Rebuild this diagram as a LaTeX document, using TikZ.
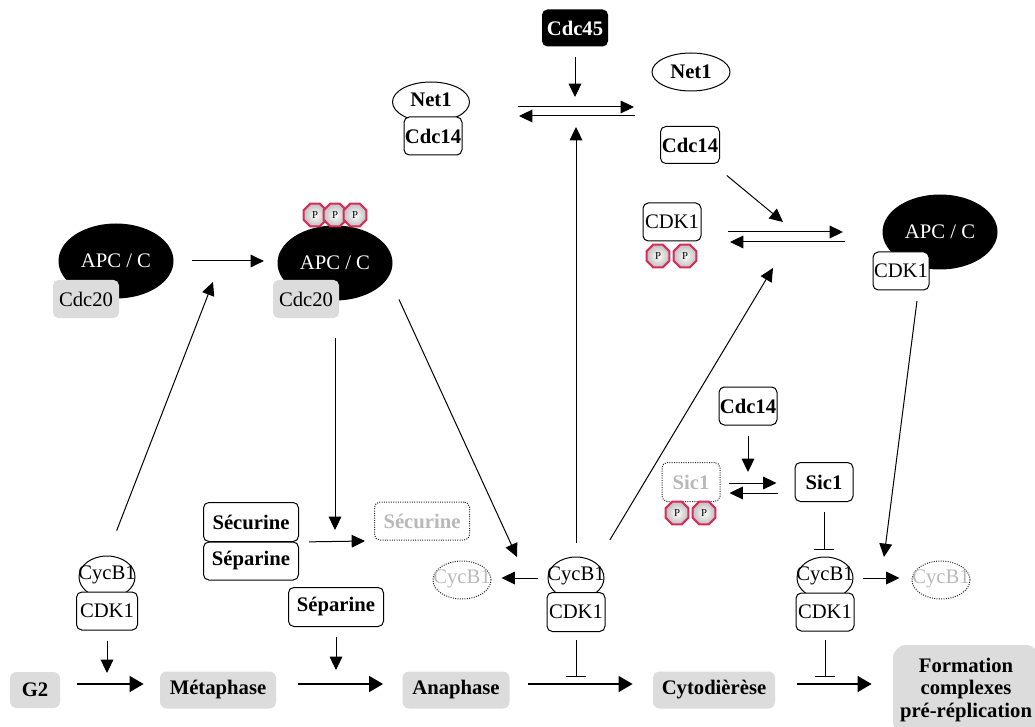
\documentclass[tikz,border=0pt]{standalone}
\usepackage{fontspec}
\setmainfont{Liberation Serif}
\usetikzlibrary{shapes.geometric,arrows.meta}
\definecolor{phg}{RGB}{220,220,220}
\definecolor{ltx}{RGB}{185,185,185}
\definecolor{pcr}{RGB}{215,45,90}
\newcommand{\fs}{\fontsize{15.5}{17}\selectfont}
\begin{document}
\begin{tikzpicture}[x=0.75pt,y=-0.75pt,
  every node/.style={font=\fs, inner sep=0pt},
  bx/.style={draw, rounded corners=4pt, fill=white, line width=0.75pt, minimum width=43.5pt, minimum height=28.5pt},
  bbx/.style={bx, font=\fs\bfseries},
  gbx/.style={draw=black!85, densely dotted, rounded corners=4pt, line width=0.75pt, minimum width=43.5pt, minimum height=28.5pt, text=ltx, font=\fs\bfseries},
  phase/.style={fill=phg, rounded corners=5pt, minimum height=27.75pt, font=\fs\bfseries},
  apc/.style={ellipse, fill=black, text=white, minimum width=86.25pt, minimum height=56.25pt},
  cdcg/.style={fill=phg, rounded corners=4pt, minimum width=49.5pt, minimum height=28.5pt},
  ell/.style={ellipse, draw, fill=white, line width=0.75pt, minimum width=42pt, minimum height=31.5pt},
  gell/.style={ellipse, draw=black!85, densely dotted, line width=0.75pt, minimum width=43.5pt, minimum height=28.5pt},
  lbl/.style={},
  glbl/.style={text=ltx},
  pp/.style={regular polygon, regular polygon sides=8, minimum size=18.5pt, draw=pcr, line width=1.5pt, inner color=white, outer color=gray!50, font=\fontsize{8}{9}\selectfont},
  arr/.style={line width=0.75pt, -{Triangle[length=10pt,width=9.5pt]}},
  inh/.style={line width=0.75pt, -{Bar[width=15pt,line width=0.75pt]}},
  big/.style={line width=2.2pt, -{Triangle[length=10.5pt,width=11.5pt]}},
]
\fill[white] (0,0) rectangle (1035,727);
\useasboundingbox (0,0) rectangle (1035,727);

% ---- top ----
\node[fill=black, text=white, rounded corners=4pt, minimum width=49.5pt, minimum height=27.75pt, font=\fs\bfseries] (cdc45) at (575,28) {Cdc45};
\node[ell, minimum width=57.75pt, minimum height=30pt] (net1L) at (431,102) {};
\node[lbl, font=\fs\bfseries] (net1Lt) at (431,100) {Net1};
\node[bbx] (cdc14L) at (433,136) {Cdc14};
\node[ell, minimum width=58.5pt, minimum height=28.5pt, font=\fs\bfseries] (net1R) at (691,72) {Net1};
\node[bbx, minimum width=44.25pt, minimum height=27.75pt] (cdc14R) at (690,145) {Cdc14};

\coordinate (e1) at (575,97);
\draw[arr, shorten <=8pt] (cdc45) -- (e1);
\coordinate (q1a) at (518,107); \coordinate (q1b) at (634,107);
\coordinate (q1c) at (635,116); \coordinate (q1d) at (519,116);
\draw[arr] (q1a) -- (q1b);
\draw[arr] (q1c) -- (q1d);

% ---- APC/C left and middle ----
\node[apc] (apcL) at (116,261) {APC / C};
\node[cdcg] (cdc20L) at (86,299) {Cdc20};
\node[apc] (apcM) at (335,263) {APC / C};
\node[cdcg] (cdc20M) at (306,299) {Cdc20};
\node[pp] (pM1) at (315,215) {P};
\node[pp] (pM2) at (335,215) {P};
\node[pp] (pM3) at (355,215) {P};
\draw[arr, shorten <=14pt, shorten >=10pt] (apcL.east) -- (apcL.east -| apcM.west);

% ---- CDK1-P / APC/C right ----
\node[bx] (cdkP) at (672,222) {CDK1};
\node[pp] (pC1) at (658,256) {P};
\node[pp] (pC2) at (685,256) {P};
\node[apc] (apcR) at (940,232) {APC / C};
\node[bx, minimum width=42pt] (apcRk) at (901,271) {CDK1};
\coordinate (q2a) at (728,232); \coordinate (q2b) at (843,232);
\coordinate (q2c) at (845,242); \coordinate (q2d) at (730,242);
\draw[arr] (q2a) -- (q2b);
\draw[arr] (q2c) -- (q2d);
\coordinate (e3) at (783,222);
\draw[arr, shorten <=13.5pt] (cdc14R) -- (e3);

% ---- CycB1/CDK1 complexes ----
\node[ell] (cycL) at (107,577) {};
\node[lbl] (cycLt) at (107,575) {CycB1};
\node[bx, minimum width=45.75pt] (cdkL) at (107,611) {CDK1};
\node[ell] (cycMid) at (576,578) {};
\node[lbl] (cycMidt) at (576,576) {CycB1};
\node[bx, minimum height=29.25pt] (cdkMid) at (576,612) {CDK1};
\node[ell] (cycR) at (825,578) {};
\node[lbl] (cycRt) at (825,576) {CycB1};
\node[bx] (cdkR) at (825,612) {CDK1};
\node[gell] (cycG1) at (462,580) {};
\node[glbl] (cycG1t) at (462,579) {CycB1};
\node[gell] (cycG2) at (941,580) {};
\node[glbl] (cycG2t) at (941,579) {CycB1};

% ---- Securine / Separine ----
\node[bbx, minimum width=71.25pt, minimum height=29.25pt] (sec) at (251,522) {Sécurine};
\node[bbx, minimum width=71.25pt] (sep) at (251,561) {Séparine};
\node[gbx, minimum width=71.25pt] (secG) at (422,521) {Sécurine};
\node[bbx, minimum width=71.25pt, minimum height=29.25pt] (sep2) at (336,607) {Séparine};

% ---- Sic1 ----
\node[bbx] (cdc14S) at (748,406) {Cdc14};
\node[gbx, minimum height=29.25pt] (sicG) at (691,482) {Sic1};
\node[pp] (pS1) at (677,513) {P};
\node[pp] (pS2) at (704,513) {P};
\node[bbx, minimum height=29.25pt] (sic) at (824,482) {Sic1};

% ---- phases ----
\node[phase, minimum width=37.5pt, minimum height=27pt] (g2) at (35,690) {G2};
\node[phase, minimum width=87pt] (meta) at (218,690) {Métaphase};
\node[phase, minimum width=80.25pt] (ana) at (456,690) {Anaphase};
\node[phase, minimum width=91.5pt] (cyto) at (714,690) {Cytodièrèse};
\node[phase, minimum width=109.5pt, minimum height=67.5pt, rounded corners=10pt, align=center] (form) at (966,690) {Formation\\complexes\\pré-réplication};

% ---- connectors ----
\coordinate (e2) at (576,127);
\draw[arr, shorten <=10pt] (cycMid.north) -- (e2);
\coordinate (e4) at (773,268);
\draw[arr, shorten <=20pt] (cycMid.north east) -- (e4);
\coordinate (e5) at (884,557);
\draw[arr, shorten <=8pt] ([xshift=13pt]apcRk.south) -- (e5);
\coordinate (e6) at (213,282);
\draw[arr, shorten <=20pt] (cycL.north) -- (e6);
\coordinate (e7) at (517,557);
\draw[arr, shorten <=8pt] ([xshift=14pt]apcM.south east) -- (e7);
\coordinate (e8) at (335,530);
\draw[arr, shorten <=28pt] (apcM.south) -- (e8);
\coordinate (e9) at (365,541);
\draw[arr, shorten <=7.5pt] (sec.south east) -- (e9);
\coordinate (e10) at (336,670);
\draw[arr, shorten <=7.5pt] (sep2.south) -- (e10);
\draw[arr, shorten <=7.5pt, shorten >=7.5pt] (cycMid.west) -- (cycMid.west -| cycG1.east);
\coordinate (e11) at (576,677);
\draw[inh, shorten <=6pt] (cdkMid.south) -- (e11);
\coordinate (e12) at (107,673);
\draw[arr, shorten <=7.5pt] (cdkL.south) -- (e12);
\coordinate (e13) at (748,472);
\draw[arr, shorten <=7.5pt] (cdc14S.south) -- (e13);
\draw[arr, shorten <=6pt, shorten >=13.5pt] ([yshift=-0.75pt]sicG.east) -- ([yshift=-0.75pt]sic.west);
\draw[arr, shorten <=12.75pt, shorten >=6.75pt] ([yshift=-8.25pt]sic.west) -- ([yshift=-8.25pt]sicG.east);
\coordinate (e14) at (824,550);
\draw[inh, shorten <=7.5pt] (sic.south) -- (e14);
\coordinate (e15) at (825,677);
\draw[inh, shorten <=6.5pt] (cdkR.south) -- (e15);
\draw[arr, shorten <=6.75pt, shorten >=9pt] (cycR.east) -- (cycR.east -| cycG2.west);

\draw[big, shorten <=12.75pt, shorten >=12pt] ([yshift=4.5pt]g2.east) -- ([yshift=4.5pt]meta.west);
\draw[big, shorten <=16.5pt, shorten >=14.25pt] ([yshift=4.5pt]meta.east) -- ([yshift=4.5pt]ana.west);
\draw[big, shorten <=13.5pt, shorten >=15pt] ([yshift=4.5pt]ana.east) -- ([yshift=4.5pt]cyto.west);
\draw[big, shorten <=16.5pt, shorten >=15.75pt] ([yshift=4.5pt]cyto.east) -- ([yshift=4.5pt]form.west);
\end{tikzpicture}
\end{document}
